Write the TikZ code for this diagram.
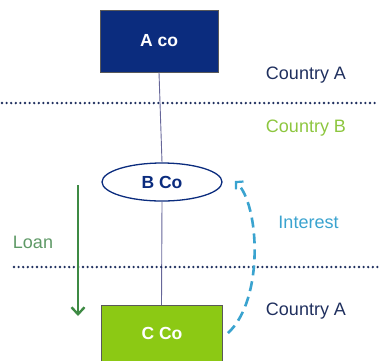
\documentclass[tikz,border=0pt]{standalone}
\usepackage{fontspec}
\setmainfont{Liberation Sans}
\usetikzlibrary{shapes.geometric,arrows.meta}
\definecolor{navy}{HTML}{0B2C7E}
\definecolor{dnavy}{HTML}{1F2F5E}
\definecolor{lime}{HTML}{8CC914}
\definecolor{lgreen}{HTML}{8DC63F}
\definecolor{loang}{HTML}{3E8A44}
\definecolor{ltxt}{HTML}{5E9966}
\definecolor{iblue}{HTML}{3AA3CF}
\tikzset{
  x=1pt,y=-1pt,
  box/.style={draw=gray!70!black,line width=0.8pt,minimum width=118pt,minimum height=62pt,inner sep=0pt,font=\bfseries\fontsize{17.5}{20}\selectfont,text=white},
  oval/.style={ellipse,draw=navy,line width=1.3pt,fill=white,minimum width=120pt,minimum height=38pt,inner sep=0pt,font=\bfseries\fontsize{17.5}{20}\selectfont,text=navy},
  link/.style={draw=gray!80!blue,line width=0.9pt},
  border/.style={draw=dnavy,line width=2.6pt,dash pattern=on 0pt off 4.6pt,line cap=round},
  lbl/.style={font=\fontsize{18}{20}\selectfont,anchor=center}
}
\begin{document}
\begin{tikzpicture}
\useasboundingbox (0,0) rectangle (379,360);
\clip (0,0) rectangle (379,360);
\node[box,fill=navy] (A) at (159,41) {A co};
\node[oval] (B) at (162,182) {B Co};
\node[box,fill=lime,minimum width=121pt,anchor=north,text depth=0pt] (C) at (161.5,305) {};
\node[font=\bfseries\fontsize{17.5}{20}\selectfont,text=white] (Ct) at (162,333) {C Co};
\draw[link] (A.south) -- (B.north);
\draw[link] (B.south) -- (C.north);
\coordinate (d1l) at (2,103); \coordinate (d1r) at (379,103);
\coordinate (d2l) at (14,267); \coordinate (d2r) at (379,267);
\draw[border] (d1l) -- (d1r);
\draw[border] (d2l) -- (d2r);
\node[lbl,text=dnavy] (ca1) at (306,75) {Country A};
\node[lbl,text=lgreen] (cb) at (306,128) {Country B};
\node[lbl,text=dnavy] (ca2) at (306,311) {Country A};
\node[lbl,text=ltxt] (loan) at (33,242) {Loan};
\node[lbl,text=iblue] (int) at (308.5,222) {Interest};
\coordinate (l1) at (78,185); \coordinate (l2) at (78,316);
\draw[loang,line width=2.6pt,-{Straight Barb[length=7pt,width=13pt,line width=2.4pt]}] (l1) -- (l2);
\coordinate (i1) at (228,333); \coordinate (i2) at (235,181);
\draw[iblue,line width=2.6pt,dash pattern=on 10pt off 6pt,-{Straight Barb[length=5pt,width=11pt,line width=2.2pt]}] (i1) .. controls (264,300) and (260,205) .. (i2);
\end{tikzpicture}
\end{document}
